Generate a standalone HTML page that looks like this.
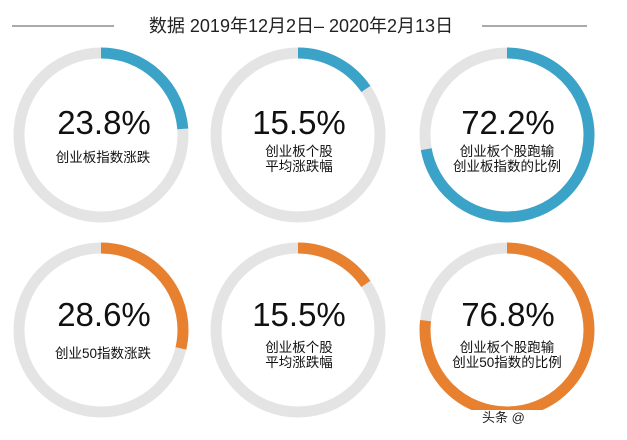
<!DOCTYPE html>
<html><head><meta charset="utf-8"><style>
html,body{margin:0;padding:0;background:#fff;}
body{width:627px;height:435px;overflow:hidden;position:relative;font-family:"Liberation Sans","Noto Sans CJK SC",sans-serif;}
svg text{font-family:"Liberation Sans","Noto Sans CJK SC",sans-serif;}
</style></head><body>
<svg width="627" height="435" viewBox="0 0 627 435" xmlns="http://www.w3.org/2000/svg">
<line x1="12" y1="26" x2="114" y2="26" stroke="#555" stroke-width="1"/>
<line x1="482" y1="26" x2="587" y2="26" stroke="#555" stroke-width="1"/>
<text x="301" y="32" font-size="18" text-anchor="middle" fill="#222">数据 2019年12月2日– 2020年2月13日</text>
<g fill="none" stroke-width="11">
<circle cx="101" cy="135" r="82" stroke="#e4e4e4"/>
<circle cx="101" cy="135" r="82" stroke="#3ba3c8" stroke-dasharray="122.6 600" transform="rotate(-90 101 135)"/>
<circle cx="298" cy="135" r="82" stroke="#e4e4e4"/>
<circle cx="298" cy="135" r="82" stroke="#3ba3c8" stroke-dasharray="79.9 600" transform="rotate(-90 298 135)"/>
<circle cx="507" cy="135" r="82" stroke="#e4e4e4"/>
<circle cx="507" cy="135" r="82" stroke="#3ba3c8" stroke-dasharray="372 600" transform="rotate(-90 507 135)"/>
<circle cx="101" cy="330" r="82" stroke="#e4e4e4"/>
<circle cx="101" cy="330" r="82" stroke="#e8812f" stroke-dasharray="147.3 600" transform="rotate(-90 101 330)"/>
<circle cx="298" cy="330" r="82" stroke="#e4e4e4"/>
<circle cx="298" cy="330" r="82" stroke="#e8812f" stroke-dasharray="79.9 600" transform="rotate(-90 298 330)"/>
<circle cx="507" cy="330" r="82" stroke="#e4e4e4"/>
<circle cx="507" cy="330" r="82" stroke="#e8812f" stroke-dasharray="395.7 600" transform="rotate(-90 507 330)"/>
</g>
<g fill="#111" text-anchor="middle">
<text x="104" y="134" font-size="33">23.8%</text>
<text x="103" y="162" font-size="13.5">创业板指数涨跌</text>
<text x="299" y="134" font-size="33">15.5%</text>
<text x="299" y="156" font-size="13.5">创业板个股</text>
<text x="299" y="171" font-size="13.5">平均涨跌幅</text>
<text x="508" y="134" font-size="33">72.2%</text>
<text x="507" y="156" font-size="13.5">创业板个股跑输</text>
<text x="507" y="171" font-size="13.5">创业板指数的比例</text>

<text x="104" y="326" font-size="33">28.6%</text>
<text x="103" y="358" font-size="13.5">创业50指数涨跌</text>
<text x="299" y="326" font-size="33">15.5%</text>
<text x="299" y="352" font-size="13.5">创业板个股</text>
<text x="299" y="367" font-size="13.5">平均涨跌幅</text>
<text x="508" y="326" font-size="33">76.8%</text>
<text x="507" y="352" font-size="13.5">创业板个股跑输</text>
<text x="507" y="367" font-size="13.5">创业50指数的比例</text>
</g>
<rect x="470" y="410" width="130" height="16" fill="#fff"/>
<text x="482" y="422" font-size="13" fill="#222">头条 @</text>
</svg>
</body></html>
